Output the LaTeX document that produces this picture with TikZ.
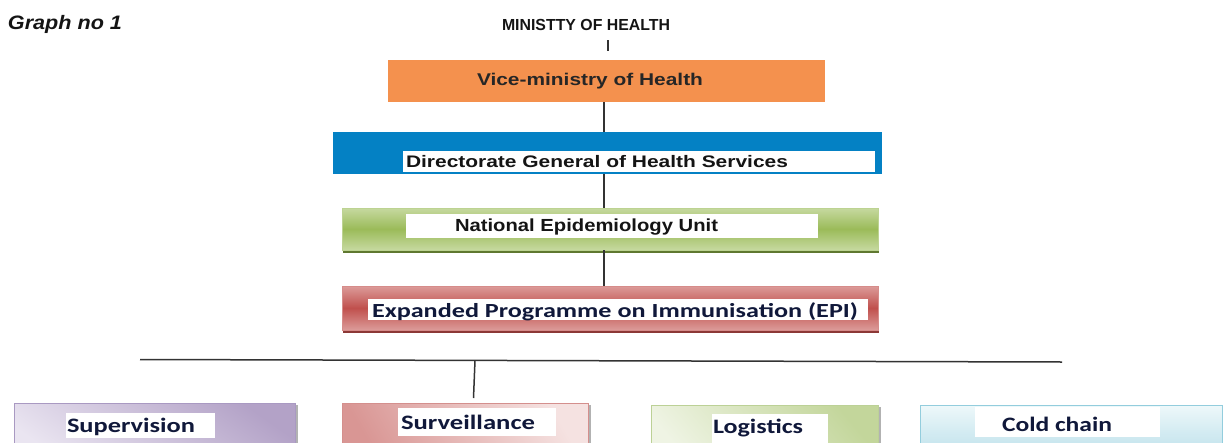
\documentclass[tikz,border=0pt]{standalone}
\usepackage{fontspec}
\setmainfont{Liberation Sans}
\newfontfamily\calfont{Carlito}
\usepackage{graphicx}
\newcommand{\fitw}[2]{\resizebox{#1}{\height}{#2}}
\definecolor{orng}{HTML}{F4914E}
\definecolor{blu}{HTML}{0481C4}
\definecolor{gl}{HTML}{C6D9A0}
\definecolor{gd}{HTML}{9BBB59}
\definecolor{gsh}{HTML}{5F7830}
\definecolor{rl}{HTML}{DC9B99}
\definecolor{rd}{HTML}{C0504D}
\definecolor{rsh}{HTML}{8C3836}
\definecolor{pl}{HTML}{EAE5F1}
\definecolor{pd}{HTML}{B3A2C7}
\definecolor{pb}{HTML}{A999C2}
\definecolor{sl}{HTML}{F5E2E1}
\definecolor{sd}{HTML}{D99694}
\definecolor{sb}{HTML}{D48F8D}
\definecolor{ll}{HTML}{EFF4E4}
\definecolor{ld}{HTML}{C3D69B}
\definecolor{lb}{HTML}{BCD196}
\definecolor{cl}{HTML}{EEF8FA}
\definecolor{cd}{HTML}{B3DCE8}
\definecolor{cb}{HTML}{93CDDD}
\definecolor{ink}{HTML}{141414}
\definecolor{navy}{HTML}{10183A}
\definecolor{linec}{HTML}{333333}
\begin{document}
\begin{tikzpicture}[x=1pt,y=-1pt,
  box/.style={inner sep=0pt, outer sep=0pt, anchor=north west},
  lab/.style={fill=white, inner sep=0pt, outer sep=0pt, anchor=north west},
  txt/.style={inner sep=0pt, outer sep=0pt, anchor=base west, text=ink},
  ctxt/.style={txt, text=navy},
  conn/.style={draw=linec, line width=1.4pt}]
\useasboundingbox (0,0) rectangle (1224,442);
\clip (0,0) rectangle (1224,442);

% titles
\node[txt] (graph) at (8,29.5) {\fitw{114pt}{\fontsize{19.5}{22}\selectfont\bfseries\itshape Graph no 1}};
\node[txt] (ministry) at (502,30) {\fitw{168pt}{\fontsize{16}{19}\selectfont\bfseries MINISTTY OF HEALTH}};

% main chain boxes
\node[box, fill=orng, minimum width=437pt, minimum height=42pt] (vice) at (388,60) {};
\node[txt, text=black!85] (vicet) at (477,85) {\fitw{226pt}{\fontsize{17}{20}\selectfont\bfseries Vice-ministry of Health}};

\node[box, fill=blu, minimum width=549pt, minimum height=42pt] (dgh) at (333,132) {};
\node[lab, minimum width=472pt, minimum height=21pt] (dghlab) at (403,151) {};
\node[txt] (dght) at (406,167.5) {\fitw{382pt}{\fontsize{16.7}{20}\selectfont\bfseries Directorate General of Health Services}};

\fill[gsh] (343,249) rectangle (879,252.5);
\node[box, top color=gl, bottom color=gl, middle color=gd, draw=gl!80!gd, line width=0.8pt, minimum width=536pt, minimum height=42pt] (neu) at (342,208) {};
\node[lab, minimum width=412pt, minimum height=24pt] (neulab) at (406,214) {};
\node[txt] (neut) at (455,231) {\fitw{263pt}{\fontsize{17.5}{20}\selectfont\bfseries National Epidemiology Unit}};

\fill[rsh] (343,329) rectangle (879,333);
\node[box, top color=rl, bottom color=rl, middle color=rd, draw=rl!80!rd, line width=0.8pt, minimum width=536pt, minimum height=44pt] (epi) at (342,286) {};
\node[lab, minimum width=500pt, minimum height=21pt] (epilab) at (368,299) {};
\node[ctxt] (epit) at (372,317.5) {\fitw{486pt}{\fontsize{20}{24}\selectfont\calfont\bfseries Expanded Programme on Immunisation (EPI)}};

% connectors
\coordinate (spine) at (604,0);
\coordinate (tk1) at (608,40);
\coordinate (tk2) at (608,51);
\draw[conn, line width=1.6pt] (tk1) -- (tk2);
\draw[conn] (vice.south -| spine) -- (dgh.north -| spine);
\draw[conn] (dgh.south -| spine) -- (neu.north -| spine);
\draw[conn] (neu.south -| spine) -- (epi.north -| spine);

\coordinate (hl) at (140,359.5);
\coordinate (hr) at (1062,362);
\coordinate (dt) at (475,360.5);
\coordinate (db) at (473.5,398);
\draw[conn, line width=1.5pt] (hl) -- (hr);
\draw[conn, line width=1.5pt] (dt) -- (db);

% bottom boxes
\fill[gray!60] (296,405) rectangle (297.5,450);
\node[box, top color=pd, bottom color=pl, shading angle=-35, draw=pb, line width=1pt, minimum width=281pt, minimum height=60pt] (sup) at (14,403) {};
\node[lab, minimum width=149pt, minimum height=25pt] (suplab) at (66,413) {};
\node[ctxt] (supt) at (67,432) {\fitw{128pt}{\fontsize{20.5}{24}\selectfont\calfont\bfseries Supervision}};

\fill[gray!60] (589,405) rectangle (590.5,450);
\node[box, top color=sl, bottom color=sd, shading angle=-60, draw=sb, line width=1pt, minimum width=246pt, minimum height=60pt] (sur) at (342,403) {};
\node[lab, minimum width=158pt, minimum height=28pt] (surlab) at (398,408) {};
\node[ctxt] (surt) at (401,429.5) {\fitw{134pt}{\fontsize{20.5}{24}\selectfont\calfont\bfseries Surveillance}};

\fill[gray!60] (879,407) rectangle (880.5,450);
\node[box, top color=ld, bottom color=ll, shading angle=-50, draw=lb, line width=1pt, minimum width=227pt, minimum height=60pt] (log) at (651,405) {};
\node[lab, minimum width=116pt, minimum height=30pt] (loglab) at (712,414) {};
\node[ctxt] (logt) at (713,433) {\fitw{90pt}{\fontsize{20.5}{24}\selectfont\calfont\bfseries Logistics}};

\node[box, top color=cl, bottom color=cd, draw=cb, line width=1pt, minimum width=302pt, minimum height=60pt] (cold) at (920,405) {};
\node[lab, minimum width=185pt, minimum height=30pt] (coldlab) at (975,407) {};
\node[ctxt] (coldt) at (1002,431) {\fitw{110pt}{\fontsize{20.5}{24}\selectfont\calfont\bfseries Cold chain}};
\end{tikzpicture}
\end{document}
